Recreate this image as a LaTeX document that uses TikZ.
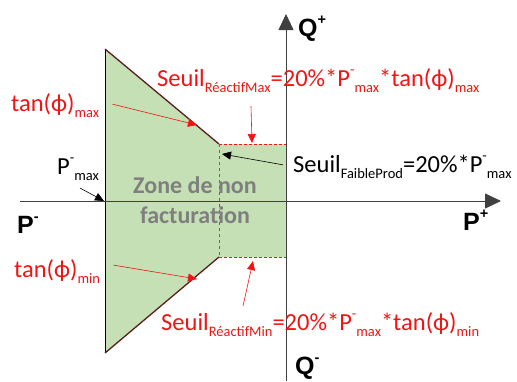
\documentclass[tikz,border=0pt]{standalone}
\usepackage{fontspec}
\setmainfont{Carlito}
\newfontfamily\axefamily{Liberation Sans}
\usetikzlibrary{arrows.meta,positioning}
\definecolor{zoneGreen}{HTML}{C5E0B4}
\definecolor{zoneEdge}{HTML}{5A1E1E}
\definecolor{seuilRed}{HTML}{F01414}
\definecolor{zoneGrey}{HTML}{7F7F7F}
\definecolor{axeGrey}{HTML}{404040}
\newcommand\lblfont{\fontsize{24.5}{28}\selectfont}
\newcommand\zonefont{\fontsize{24}{30}\selectfont\bfseries}
\newcommand\axefont{\fontsize{25}{28}\selectfont\axefamily\bfseries}
\newcommand\bas[1]{\raisebox{-0.25em}{\fontsize{14.5}{14.5}\selectfont #1}}
\newcommand\haut[1]{\raisebox{0.45em}{\fontsize{14.5}{14.5}\selectfont #1}}
\tikzset{
  >={Triangle[length=9pt,width=8pt]},
  zone/.style={fill=zoneGreen, draw=none},
  bord/.style={draw=zoneEdge, line width=1.3pt},
  seuil/.style={draw=seuilRed, line width=0.6pt, dash pattern=on 3pt off 2pt},
  mitoyen/.style={draw=zoneGrey!80!black, line width=0.8pt, dash pattern=on 3pt off 3pt},
  axe/.style={-{Triangle[length=16pt,width=15pt]}, draw=axeGrey, line width=0.8pt},
  rouge/.style={font=\lblfont, text=seuilRed, inner sep=1pt},
  noir/.style={font=\lblfont, text=black, inner sep=1pt},
  axelbl/.style={font=\axefont, inner sep=0pt},
  zonelbl/.style={font=\zonefont, text=zoneGrey, align=center, inner sep=0pt},
  flecheR/.style={->, draw=seuilRed, line width=0.6pt},
  flecheN/.style={->, draw=black, line width=0.6pt},
}
\begin{document}
\begin{tikzpicture}[x=1pt,y=-1pt]
  \useasboundingbox (0,0) rectangle (517,381);
  % sommets de la zone
  \coordinate (A) at (105,49);
  \coordinate (B) at (219,144);
  \coordinate (C) at (286,144);
  \coordinate (D) at (286,257);
  \coordinate (E) at (219,257);
  \coordinate (F) at (105,353);
  \fill[zone] (A)--(B)--(C)--(D)--(E)--(F)--cycle;
  \draw[black,line width=0.8pt] (A)--(F);
  \draw[bord] (A)--(B);
  \draw[bord] (F)--(E);
  \draw[seuil] (B)--(C);
  \draw[seuil] (E)--(D);
  \draw[mitoyen] (B)--(E);
  % axes
  \coordinate (Pm) at (20,201);
  \coordinate (Pp) at (501,201);
  \coordinate (Qm) at (286,381);
  \coordinate (Qp) at (286,14);
  \draw[axe] (Pm)--(Pp);
  \draw[axe] (Qm)--(Qp);
  \node[axelbl,anchor=base west] (lblQp) at (298,36) {Q\haut{+}};
  \node[axelbl,anchor=base west] (lblQm) at (295,374) {Q\haut{-}};
  \node[axelbl,anchor=base west] (lblPm) at (17,233) {P\haut{-}};
  \node[axelbl,anchor=base west] (lblPp) at (463,230) {P\haut{+}};
  % zone
  \node[zonelbl] (zone) at (195,200) {Zone de non\\facturation};
  % etiquettes
  \node[rouge,anchor=base west] (tmax) at (10,111) {tan(ϕ)\bas{max}};
  \node[rouge,anchor=base west] (tmin) at (13,277) {tan(ϕ)\bas{min}};
  \node[noir,anchor=base west] (pmax) at (56,174) {P\haut{-}\bas{max}};
  \node[rouge,anchor=base west] (smax) at (156,86)
    {Seuil\bas{RéactifMax}=20\%*P\haut{-}\bas{max}*tan(ϕ)\bas{max}};
  \node[rouge,anchor=base west] (smin) at (160,330)
    {Seuil\bas{RéactifMin}=20\%*P\haut{-}\bas{max}*tan(ϕ)\bas{min}};
  \node[noir,anchor=base west] (sfp) at (292,172)
    {Seuil\bas{FaibleProd}=20\%*P\haut{-}\bas{max}};
  % fleches
  \coordinate (tmaxTip) at (197,125);
  \coordinate (tminTip) at (197,279);
  \coordinate (pmaxTip) at (104,201);
  \coordinate (smaxTip) at (252,143);
  \coordinate (sminTip) at (253,261);
  \coordinate (sfpTip) at (222,154);
  \coordinate (smaxFoot) at (251,106);
  \coordinate (sminFoot) at (243,306);
  \draw[flecheR] (tmax.east) ++(12,-1) -- (tmaxTip);
  \draw[flecheR] (tmin.east) ++(12,-6) -- (tminTip);
  \draw[flecheN] (80,188) -- (pmaxTip);
  \draw[flecheR] (smaxFoot) -- (smaxTip);
  \draw[flecheR] (sminFoot) -- (sminTip);
  \draw[flecheN, shorten <=9pt] (sfp.west) -- (sfpTip);
\end{tikzpicture}
\end{document}
